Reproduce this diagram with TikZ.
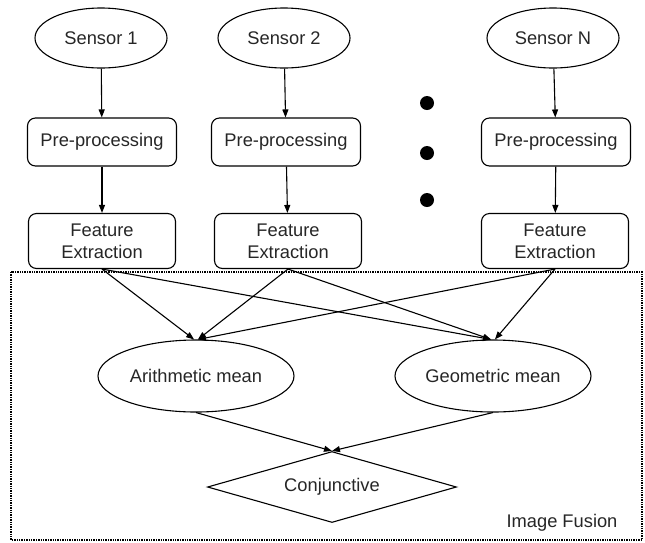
\documentclass[tikz,border=0pt]{standalone}
\usepackage{fontspec}
\setmainfont{Liberation Sans}
\usetikzlibrary{shapes.geometric,arrows.meta}
\begin{document}
\begin{tikzpicture}[x=1pt,y=-1pt,
  every node/.style={font=\fontsize{18.3}{22}\selectfont, text=black!85},
  sensor/.style={draw, ellipse, line width=1.1pt, inner sep=0pt, minimum width=132pt, minimum height=60pt},
  procbox/.style={draw, rounded corners=8pt, line width=1.1pt, minimum width=149pt, minimum height=48pt, inner sep=0pt, align=center},
  featbox/.style={draw, rounded corners=8pt, line width=1.1pt, minimum width=147pt, minimum height=55pt, inner sep=0pt, align=center},
  mean/.style={draw, ellipse, line width=1.1pt, inner sep=0pt, minimum width=196pt, minimum height=72pt},
  conn/.style={line width=1.1pt, -{Triangle[length=8pt,width=6pt]}},
  dotmark/.style={fill=black, circle, inner sep=0pt, minimum size=14pt}
]
\useasboundingbox (0,0) rectangle (645,542);
% fusion frame
\draw[line width=1.4pt, densely dotted] (11,272) rectangle (642,540);
\node[anchor=center] (lbl) at (562,523) {Image Fusion};
% sensors
\node[sensor] (s1) at (101,38) {Sensor 1};
\node[sensor] (s2) at (284,38) {Sensor 2};
\node[sensor] (sn) at (553,38) {Sensor N};
% pre-processing
\node[procbox] (p1) at (102,142) {Pre-processing};
\node[procbox] (p2) at (286,142) {Pre-processing};
\node[procbox] (pn) at (556,142) {Pre-processing};
% feature extraction
\node[featbox] (f1) at (102,241) {Feature\\Extraction};
\node[featbox] (f2) at (288,241) {Feature\\Extraction};
\node[featbox] (fn) at (555,241) {Feature\\Extraction};
% dots
\node[dotmark] (d1) at (427,103) {};
\node[dotmark] (d2) at (427,153) {};
\node[dotmark] (d3) at (427,200) {};
% means
\node[mean] (am) at (196,376) {Arithmetic mean};
\node[mean] (gm) at (493,376) {Geometric mean};
% conjunctive
\node[draw, diamond, line width=1.1pt, aspect=3.5, inner sep=0pt, minimum width=249pt, minimum height=71pt] (cj) at (332,487) {Conjunctive};
% connectors
\draw[conn] (s1) -- (p1);
\draw[conn] (s2) -- (p2);
\draw[conn] (sn) -- (pn);
\draw[conn] (p1) -- (f1);
\draw[conn] (p2) -- (f2);
\draw[conn] (pn) -- (fn);
\draw[conn] (f1.south) -- (am.93);
\draw[conn] (f2.south) -- (am.87);
\draw[conn] (fn.south) -- (am.87);
\draw[conn] (f1.south) -- (gm.93);
\draw[conn] (f2.south) -- (gm.93);
\draw[conn] (fn.south) -- (gm.87);
\draw[conn] (am.south) -- (cj.north);
\draw[conn] (gm.south) -- (cj.north);
\end{tikzpicture}
\end{document}
